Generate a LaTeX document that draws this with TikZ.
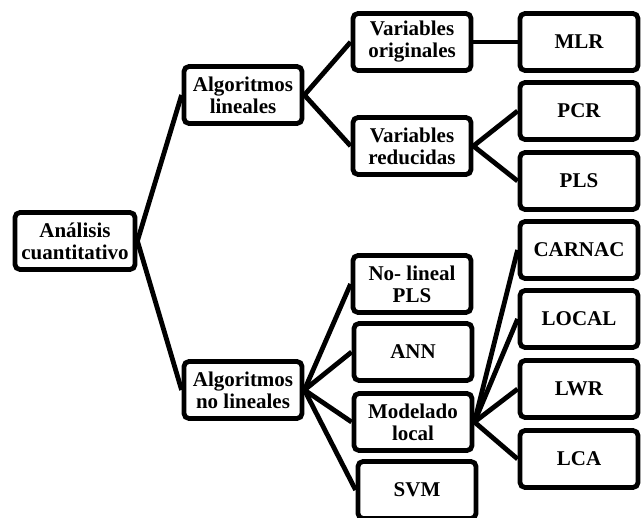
\documentclass[tikz,border=0pt]{standalone}
\usepackage{fontspec}
\setmainfont{Liberation Serif}
\begin{document}
\begin{tikzpicture}[x=1pt, y=-1pt, line width=4.8pt,
        caja/.style={draw, rounded corners=5pt, fill=white, minimum width=118pt, minimum height=57pt,
            align=center, inner sep=1pt, font=\fontsize{21}{22}\selectfont\bfseries}]
        \useasboundingbox (0,0) rectangle (641,518);
        \clip (0,0) rectangle (641,518);
        \node[caja, minimum width=120pt] (analisis) at (75,241) {Análisis\\cuantitativo};
        \node[caja] (lineales) at (243,95) {Algoritmos\\lineales};
        \node[caja] (nolineales) at (243,390) {Algoritmos\\no lineales};
        \node[caja] (originales) at (412,42) {Variables\\originales};
        \node[caja] (reducidas) at (412,146) {Variables\\reducidas};
        \node[caja] (nlpls) at (412,284) {No- lineal\\PLS};
        \node[caja] (ann) at (413,352) {ANN};
        \node[caja] (modelado) at (413,422) {Modelado\\local};
        \node[caja] (svm) at (417,490) {SVM};
        \node[caja] (mlr) at (579,42) {MLR};
        \node[caja] (pcr) at (579,111) {PCR};
        \node[caja] (pls) at (579,181) {PLS};
        \node[caja] (carnac) at (579,250) {CARNAC};
        \node[caja] (local) at (579,319) {LOCAL};
        \node[caja] (lwr) at (579,389) {LWR};
        \node[caja] (lca) at (579,459) {LCA};
        \foreach \a/\b in {analisis/lineales, analisis/nolineales, lineales/originales, lineales/reducidas,
            originales/mlr, reducidas/pcr, reducidas/pls, nolineales/nlpls, nolineales/ann,
            nolineales/modelado, nolineales/svm, modelado/carnac, modelado/local, modelado/lwr, modelado/lca} {
            \draw (\a.east) -- (\b.west);
        }
    \end{tikzpicture}
\end{document}
